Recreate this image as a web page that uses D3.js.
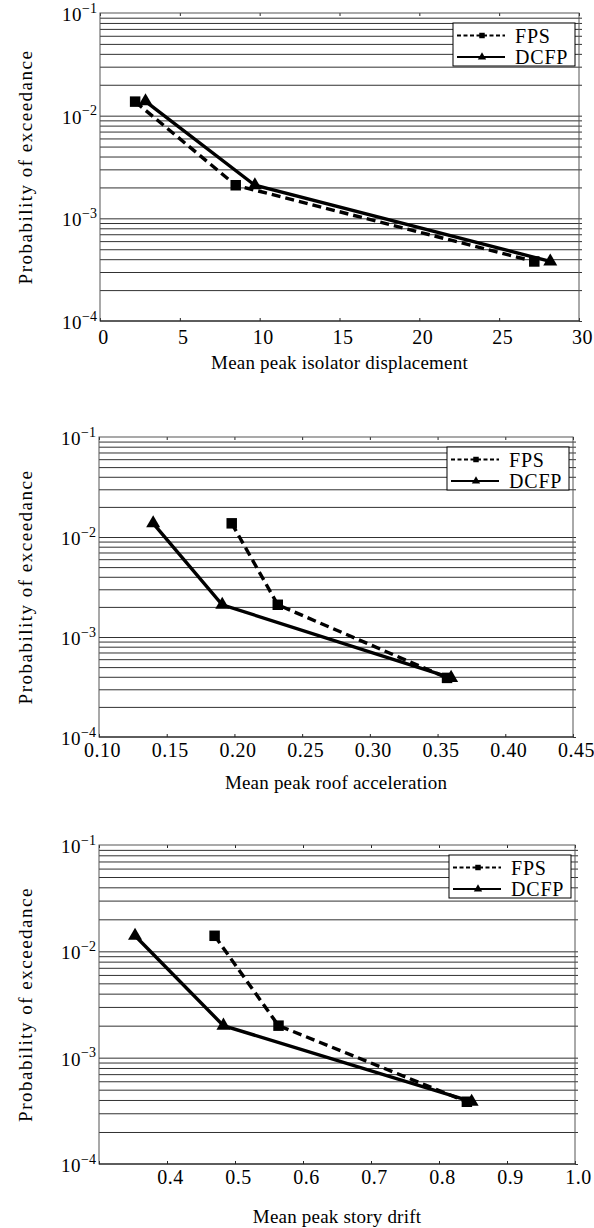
<!DOCTYPE html>
<html>
<head>
<meta charset="utf-8">
<script src="https://cdn.jsdelivr.net/npm/d3@7"></script>
<style>
  body { margin: 0; background: #fff; }
  svg { display: block; }
  svg text { font-family: "Liberation Serif", "DejaVu Serif", serif; }
</style>
</head>
<body>
<script>
// series values
const seriesNames = ["FPS", "DCFP"];

const dispFPS = [2.2, 8.5, 27.2];
const dispDCFP = [2.85, 9.7, 28.2];
const dispProbFPS = [0.0137, 0.0021, 0.00038];
const dispProbDCFP = [0.0138, 0.0021, 0.00038];

const accFPS = [0.198, 0.232, 0.357];
const accDCFP = [0.140, 0.191, 0.360];
const accProbFPS = [0.0137, 0.0021, 0.00039];
const accProbDCFP = [0.0137, 0.0021, 0.00039];

const driftFPS = [0.47, 0.564, 0.841];
const driftDCFP = [0.353, 0.483, 0.848];
const driftProbFPS = [0.014, 0.002, 0.000385];
const driftProbDCFP = [0.014, 0.002, 0.000385];

// tick values and labels
const dispTicks = [0, 5, 10, 15, 20, 25, 30];
const dispTickLabels = ["0", "5", "10", "15", "20", "25", "30"];
const accTicks = [0.10, 0.15, 0.20, 0.25, 0.30, 0.35, 0.40, 0.45];
const accTickLabels = ["0.10", "0.15", "0.20", "0.25", "0.30", "0.35", "0.40", "0.45"];
const driftTicks = [0.3, 0.4, 0.5, 0.6, 0.7, 0.8, 0.9, 1.0];
const driftTickLabels = ["", "0.4", "0.5", "0.6", "0.7", "0.8", "0.9", "1.0"];
const yDecades = [1e-1, 1e-2, 1e-3, 1e-4];
const yExponents = ["\u22121", "\u22122", "\u22123", "\u22124"];

const yLabel = "Probability of exceedance";
const serif = "'Liberation Serif', 'DejaVu Serif', serif";

const W = 594, H = 1228;
const svg = d3.select("body").append("svg").attr("width", W).attr("height", H);

const panels = [
  {
    top: 13, bottom: 321, left: 100, right: 579,
    xDomain: [0, 30], ticks: dispTicks, tickLabels: dispTickLabels,
    fps: dispFPS, dcfp: dispDCFP, pFps: dispProbFPS, pDcfp: dispProbDCFP,
    xLabel: "Mean peak isolator displacement", tickPad: 9, xLabelY: 369
  },
  {
    top: 437, bottom: 737, left: 99, right: 573,
    xDomain: [0.10, 0.45], ticks: accTicks, tickLabels: accTickLabels,
    fps: accFPS, dcfp: accDCFP, pFps: accProbFPS, pDcfp: accProbDCFP,
    xLabel: "Mean peak roof acceleration", tickPad: 6, xLabelY: 789
  },
  {
    top: 845, bottom: 1164, left: 99, right: 575,
    xDomain: [0.3, 1.0], ticks: driftTicks, tickLabels: driftTickLabels,
    fps: driftFPS, dcfp: driftDCFP, pFps: driftProbFPS, pDcfp: driftProbDCFP,
    xLabel: "Mean peak story drift", tickPad: 6, xLabelY: 1223
  }
];

function drawPanel(p) {
  const x = d3.scaleLinear().domain(p.xDomain).range([p.left, p.right]);
  const y = d3.scaleLog().domain([1e-4, 1e-1]).range([p.bottom, p.top]);
  const g = svg.append("g");

  // horizontal grid at every log step
  const gridVals = [];
  [-4, -3, -2].forEach(k => {
    for (let m = 1; m <= 9; m++) gridVals.push(m * Math.pow(10, k));
  });

  g.append("g")
    .attr("transform", `translate(${p.left},0)`)
    .call(d3.axisLeft(y).tickValues(gridVals.slice(1)).tickSize(-(p.right - p.left)).tickFormat(""))
    .call(a => a.select(".domain").remove())
    .call(a => a.selectAll(".tick line").attr("stroke", "#1a1a1a").attr("stroke-width", 0.9));

  // small ticks outside the right edge
  g.append("g")
    .attr("transform", `translate(${p.right},0)`)
    .call(d3.axisRight(y).tickValues(gridVals).tickSize(3).tickFormat(""))
    .call(a => a.select(".domain").remove())
    .call(a => a.selectAll(".tick line").attr("stroke", "#333"));

  // decade labels 10^k
  const yAx = g.append("g")
    .attr("transform", `translate(${p.left},0)`)
    .call(d3.axisLeft(y).tickValues(yDecades).tickSize(0).tickPadding(3).tickFormat(""))
    .attr("font-family", serif)
    .call(a => a.select(".domain").remove());
  yAx.selectAll(".tick text")
    .attr("fill", "#000")
    .attr("font-size", 19)
    .attr("dy", "0.4em")
    .each(function (d, i) {
      const t = d3.select(this);
      t.append("tspan").attr("letter-spacing", 0.5).text("10");
      t.append("tspan").attr("font-size", 14).attr("dy", "-0.6em").text(yExponents[i]);
    });

  // bottom and top axes with inward ticks
  const xAx = g.append("g")
    .attr("transform", `translate(0,${p.bottom})`)
    .call(d3.axisBottom(x).tickValues(p.ticks).tickSize(-3).tickPadding(p.tickPad)
      .tickFormat((d, i) => p.tickLabels[i]))
    .attr("font-family", serif)
    .call(a => a.select(".domain").remove());
  xAx.selectAll(".tick line").attr("stroke", "#222");
  xAx.selectAll(".tick text").attr("fill", "#000").attr("font-size", 20)
    .attr("letter-spacing", 0.5).attr("dx", 3);

  g.append("g")
    .attr("transform", `translate(0,${p.top})`)
    .call(d3.axisTop(x).tickValues(p.ticks).tickSize(-3).tickFormat(""))
    .call(a => a.select(".domain").remove())
    .call(a => a.selectAll(".tick line").attr("stroke", "#222"));

  // frame
  g.append("rect")
    .attr("x", p.left).attr("y", p.top)
    .attr("width", p.right - p.left).attr("height", p.bottom - p.top)
    .attr("fill", "none").attr("stroke", "#555").attr("stroke-width", 1);
  g.append("line")
    .attr("x1", p.left).attr("x2", p.right).attr("y1", p.bottom).attr("y2", p.bottom)
    .attr("stroke", "#111");

  // series
  const line = d3.line().x(d => x(d[0])).y(d => y(d[1]));
  const fpsData = d3.zip(p.fps, p.pFps);
  const dcfpData = d3.zip(p.dcfp, p.pDcfp);

  g.append("path").datum(fpsData)
    .attr("d", line).attr("fill", "none").attr("stroke", "#000")
    .attr("stroke-width", 3.4).attr("stroke-dasharray", "9,5");
  g.append("path").datum(dcfpData)
    .attr("d", line).attr("fill", "none").attr("stroke", "#000").attr("stroke-width", 3.4);

  g.selectAll(".sq").data(fpsData).join("path")
    .attr("transform", d => `translate(${x(d[0])},${y(d[1])})`)
    .attr("d", d3.symbol(d3.symbolSquare, 110));
  g.selectAll(".tri").data(dcfpData).join("path")
    .attr("transform", d => `translate(${x(d[0])},${y(d[1])})`)
    .attr("d", d3.symbol(d3.symbolTriangle, 85));

  // legend
  const lg = g.append("g").attr("transform", `translate(${p.right - 126},${p.top + 10})`);
  lg.append("rect").attr("width", 122).attr("height", 43)
    .attr("fill", "#fff").attr("stroke", "#000").attr("stroke-width", 1);
  const rows = [
    { name: seriesNames[0], dash: "4,2.5", sym: d3.symbolSquare, size: 30, yy: 12.5 },
    { name: seriesNames[1], dash: null, sym: d3.symbolTriangle, size: 30, yy: 34 }
  ];
  rows.forEach(r => {
    lg.append("line").attr("x1", 4).attr("x2", 52).attr("y1", r.yy).attr("y2", r.yy)
      .attr("stroke", "#000").attr("stroke-width", 2)
      .attr("stroke-dasharray", r.dash);
    lg.append("path").attr("transform", `translate(29,${r.yy})`)
      .attr("d", d3.symbol(r.sym, r.size));
    lg.append("text").attr("x", 62).attr("y", r.yy + 7)
      .attr("font-size", 20).attr("letter-spacing", 0.8).text(r.name);
  });

  // axis titles
  svg.append("text")
    .attr("x", (p.left + p.right) / 2).attr("y", p.xLabelY)
    .attr("text-anchor", "middle").attr("font-size", 19).attr("letter-spacing", 0.2)
    .text(p.xLabel);
  svg.append("text")
    .attr("transform", `translate(32,${(p.top + p.bottom) / 2}) rotate(-90)`)
    .attr("text-anchor", "middle").attr("font-size", 19).attr("letter-spacing", 1.5)
    .text(yLabel);
}

panels.forEach(drawPanel);
</script>
</body>
</html>
